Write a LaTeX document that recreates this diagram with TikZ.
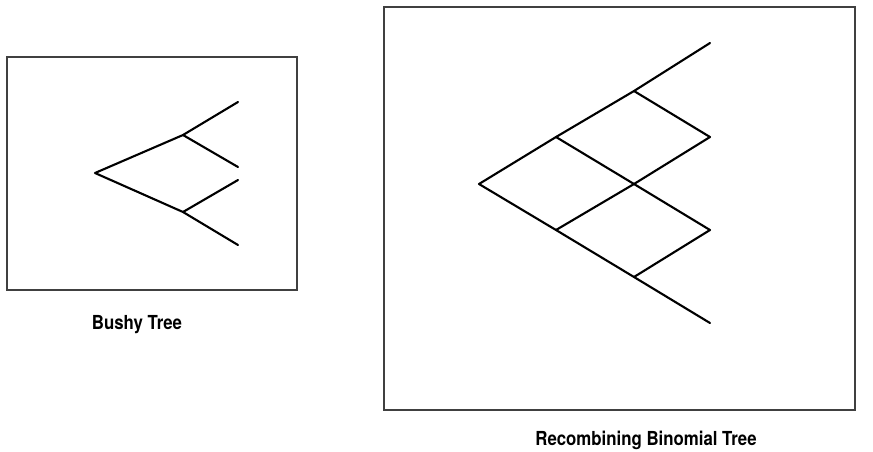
\documentclass[tikz,border=0pt]{standalone}
\usepackage{fontspec}
\setsansfont{TeX Gyre Heros}
\tikzset{
    branch/.style={line width=1.2pt, line cap=round, line join=round},
    frame/.style={draw=black!75, line width=0.9pt},
    caption/.style={font=\sffamily\bfseries\fontsize{11}{13}\selectfont, xscale=0.87, inner sep=0pt}
}
\begin{document}
\begin{tikzpicture}[x=0.02cm, y=-0.02cm]
    \useasboundingbox (0,0) rectangle (873,451);
    % Frames
    \draw[frame] (7,57) rectangle (297,290);
    \draw[frame] (384,7) rectangle (855,410);

    % Bushy tree
    \coordinate (b0) at (95,173);
    \coordinate (bu) at (183,135); \coordinate (bd) at (183,212);
    \coordinate (b1) at (238,102); \coordinate (b2) at (238,167);
    \coordinate (b3) at (238,180); \coordinate (b4) at (238,245);
    \draw[branch] (b1) -- (bu) -- (b0) -- (bd) -- (b4);
    \draw[branch] (bu) -- (b2); \draw[branch] (bd) -- (b3);

    % Recombining tree
    \coordinate (r00) at (479,184);
    \coordinate (r10) at (556,137); \coordinate (r11) at (556,230);
    \coordinate (r20) at (634,91); \coordinate (r21) at (634,184);
    \coordinate (r22) at (634,277);
    \coordinate (r30) at (710,43); \coordinate (r31) at (710,137);
    \coordinate (r32) at (710,230); \coordinate (r33) at (710,323);
    \draw[branch] (r30) -- (r20) -- (r10) -- (r00) -- (r11) -- (r22) -- (r33);
    \draw[branch] (r10) -- (r21) -- (r32) -- (r22);
    \draw[branch] (r20) -- (r31) -- (r21) -- (r11);

    % Labels
    \node[caption] (bushy) at (137,325) {Bushy Tree};
    \node[caption] (recomb) at (646,440) {Recombining Binomial Tree};
\end{tikzpicture}
\end{document}
